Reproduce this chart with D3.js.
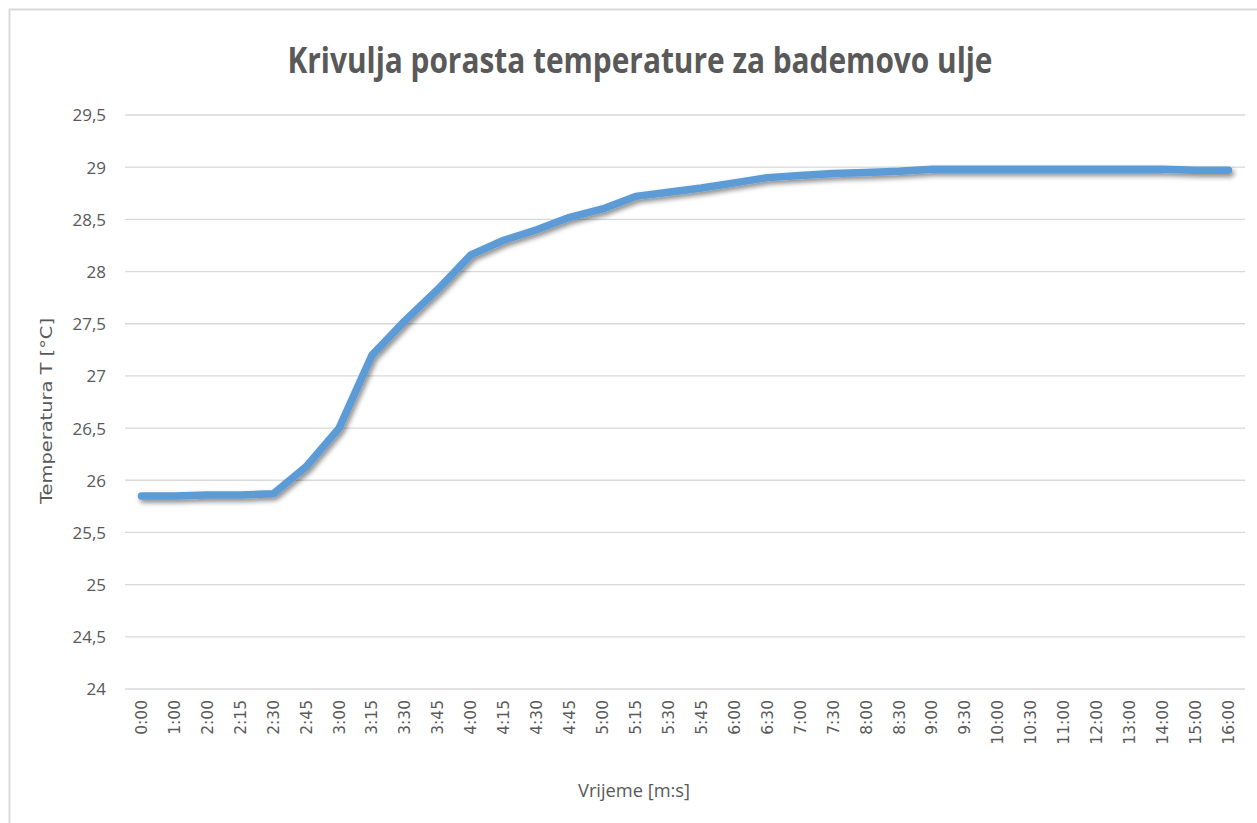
<!DOCTYPE html>
<html><head><meta charset="utf-8">
<script src="https://cdn.jsdelivr.net/npm/d3@7"></script>
<style>body{margin:0;background:#fff;} svg{display:block;}</style>
</head><body>
<svg id="c" width="1257" height="823"></svg>
<script>
const categories = ["0:00","1:00","2:00","2:15","2:30","2:45","3:00","3:15","3:30","3:45","4:00","4:15","4:30","4:45","5:00","5:15","5:30","5:45","6:00","6:30","7:00","7:30","8:00","8:30","9:00","9:30","10:00","10:30","11:00","12:00","13:00","14:00","15:00","16:00"];
const temperature = [25.85,25.85,25.86,25.86,25.87,26.13,26.5,27.2,27.53,27.83,28.16,28.3,28.4,28.52,28.6,28.72,28.76,28.8,28.85,28.9,28.92,28.94,28.95,28.96,28.98,28.98,28.98,28.98,28.98,28.98,28.98,28.98,28.97,28.97];
const yTicks = [24,24.5,25,25.5,26,26.5,27,27.5,28,28.5,29,29.5];
const chartTitle = "Krivulja porasta temperature za bademovo ulje";
const xTitle = "Vrijeme [m:s]";
const yTitle = "Temperatura T [°C]";

(function(){
const svg = d3.select("#c");
const pl = 125, pr = 1245, pt = 115, pb = 689;
const textColor = "#595959";

svg.append("rect").attr("x",9.5).attr("y",9.5).attr("width",1260).attr("height",830)
  .attr("fill","none").attr("stroke","#d9d9d9").attr("stroke-width",2);

const x = d3.scaleBand().domain(categories).range([pl,pr]);
const y = d3.scaleLinear().domain([24,29.5]).range([pb,pt]);

svg.append("g").selectAll("line").data(yTicks).join("line")
  .attr("x1",pl).attr("x2",pr)
  .attr("y1",d=>y(d)).attr("y2",d=>y(d))
  .attr("stroke","#d9d9d9").attr("stroke-width",1.3);

const yAxis = d3.axisLeft(y).tickValues(yTicks).tickSize(0).tickPadding(0)
  .tickFormat(d=>String(d).replace(".",","));
const gy = svg.append("g").attr("transform","translate(106,0)").call(yAxis);
gy.select(".domain").remove();
gy.selectAll("text").attr("fill",textColor).style("font-family","'Open Sans', sans-serif")
  .style("font-size","17px").attr("dy","0.35em");

const xAxis = d3.axisBottom(x).tickSize(0).tickPadding(0);
const gx = svg.append("g").attr("transform",`translate(0,${pb})`).call(xAxis);
gx.select(".domain").remove();
gx.selectAll("text").attr("fill",textColor)
  .style("font-family","'DejaVu Sans', sans-serif").style("font-size","15.5px")
  .attr("text-anchor","end").attr("dy","0.35em").attr("y",0)
  .attr("transform","translate(0,11) rotate(-90)");

const defs = svg.append("defs");
const f = defs.append("filter").attr("id","sh").attr("x","-5%").attr("y","-20%").attr("width","110%").attr("height","140%");
f.append("feGaussianBlur").attr("in","SourceAlpha").attr("stdDeviation",2.5).attr("result","b");
f.append("feOffset").attr("in","b").attr("dx",1.5).attr("dy",3).attr("result","o");
f.append("feComponentTransfer").attr("in","o").attr("result","o2")
  .append("feFuncA").attr("type","linear").attr("slope",0.45);
const m = f.append("feMerge");
m.append("feMergeNode").attr("in","o2");
m.append("feMergeNode").attr("in","SourceGraphic");

const line = d3.line().x((d,i)=>x(categories[i])+x.bandwidth()/2).y(d=>y(d));
svg.append("path").datum(temperature).attr("d",line)
  .attr("fill","none").attr("stroke","#5b9bd5").attr("stroke-width",7.5)
  .attr("stroke-linecap","round").attr("stroke-linejoin","round")
  .attr("filter","url(#sh)");

svg.append("text").attr("x",640).attr("y",73).attr("text-anchor","middle")
  .attr("fill",textColor).style("font-family","'Open Sans', sans-serif")
  .style("font-weight","bold").style("font-size","35px")
  .attr("textLength",705).attr("lengthAdjust","spacingAndGlyphs").text(chartTitle);

svg.append("text").attr("x",634).attr("y",797).attr("text-anchor","middle")
  .attr("fill",textColor).style("font-family","'Open Sans', sans-serif")
  .style("font-size","17.5px").attr("textLength",112).attr("lengthAdjust","spacingAndGlyphs").text(xTitle);
svg.append("text").attr("transform","translate(52,411) rotate(-90)").attr("text-anchor","middle")
  .attr("fill",textColor).style("font-family","'DejaVu Sans', sans-serif")
  .style("font-size","15.5px").attr("textLength",186).attr("lengthAdjust","spacingAndGlyphs").text(yTitle);
})();
</script>
</body></html>
